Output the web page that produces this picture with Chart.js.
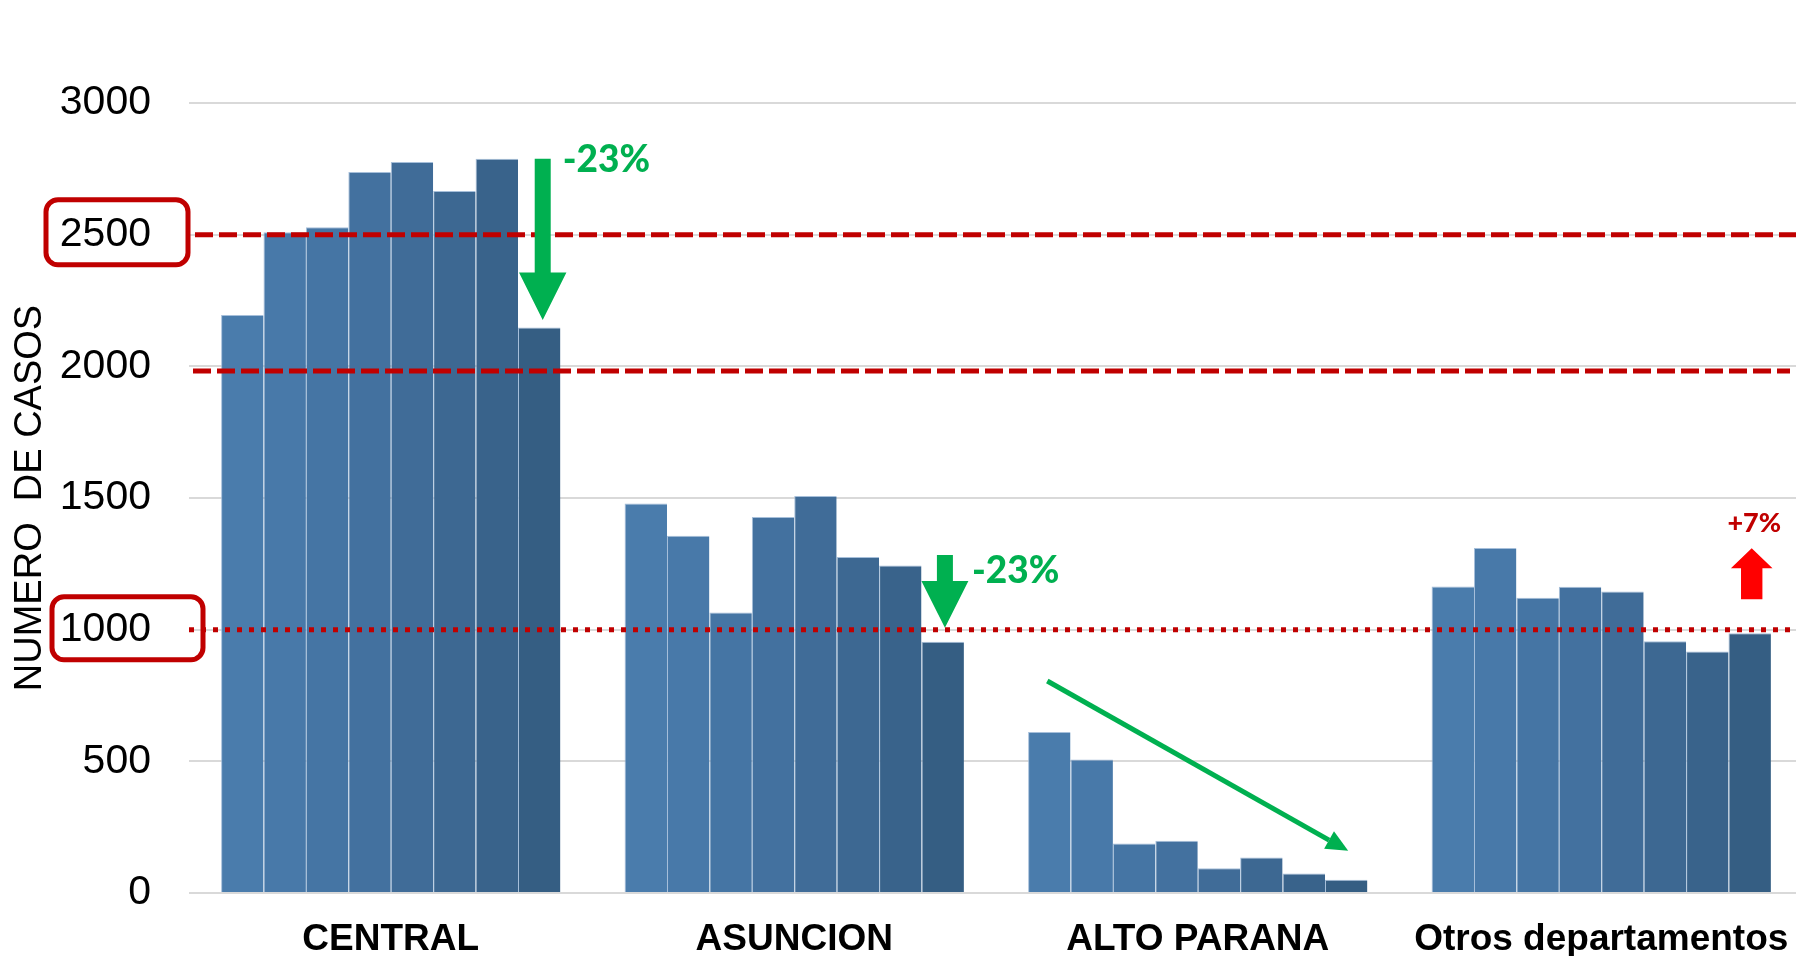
<!DOCTYPE html>
<html>
<head>
<meta charset="utf-8">
<script src="https://cdn.jsdelivr.net/npm/chart.js@4"></script>
<style>
  html, body { margin: 0; padding: 0; background: #fff; overflow: hidden; width: 1796px; height: 956px; }
  #wrap { position: absolute; left: 0; top: 0; width: 1804px; height: 956px; }
  canvas { display: block; }
</style>
</head>
<body>
<div id="wrap"><canvas id="c" width="1804" height="956"></canvas></div>
<script>
// ---- data ----
const categories = ['CENTRAL', 'ASUNCION', 'ALTO PARANA', 'Otros departamentos'];
const periodLabels = ['P1', 'P2', 'P3', 'P4', 'P5', 'P6', 'P7', 'P8'];
const period1 = [2195, 1479, 611, 1164];
const period2 = [2509, 1357, 507, 1310];
const period3 = [2528, 1065, 188, 1121];
const period4 = [2738, 1428, 198, 1163];
const period5 = [2776, 1508, 94, 1145];
const period6 = [2666, 1276, 135, 956];
const period7 = [2788, 1244, 74, 917];
const period8 = [2147, 954, 50, 986];
const yTicks = [0, 500, 1000, 1500, 2000, 2500, 3000];
const dashedLines = [2500, 1982];
const dottedLines = [1000];
const boxedTicks = [2500, 1000];
const changeLabels = ['-23%', '-23%', '+7%'];
const trendFrom = 805;   // ALTO PARANA trend arrow start value
const trendTo = 160;     // ALTO PARANA trend arrow end value

const periods = [period1, period2, period3, period4, period5, period6, period7, period8];
const barColors = ['#4a7cac', '#4879a9', '#4575a4', '#43719f', '#406c98', '#3d6892', '#39638b', '#355e83'];

function blockArrow(ctx, cx, base, headBase, tip, shaftHalf, headHalf, color) {
  ctx.beginPath();
  ctx.moveTo(cx - shaftHalf, base);
  ctx.lineTo(cx + shaftHalf, base);
  ctx.lineTo(cx + shaftHalf, headBase);
  ctx.lineTo(cx + headHalf, headBase);
  ctx.lineTo(cx, tip);
  ctx.lineTo(cx - headHalf, headBase);
  ctx.lineTo(cx - shaftHalf, headBase);
  ctx.closePath();
  ctx.fillStyle = color;
  ctx.fill();
}
function roundRect(ctx, x, y, w, h, r) {
  ctx.beginPath();
  ctx.moveTo(x + r, y);
  ctx.lineTo(x + w - r, y);
  ctx.arcTo(x + w, y, x + w, y + r, r);
  ctx.lineTo(x + w, y + h - r);
  ctx.arcTo(x + w, y + h, x + w - r, y + h, r);
  ctx.lineTo(x + r, y + h);
  ctx.arcTo(x, y + h, x, y + h - r, r);
  ctx.lineTo(x, y + r);
  ctx.arcTo(x, y, x + r, y, r);
  ctx.closePath();
}

const annotPlugin = {
  id: 'annot',
  afterDraw(chart) {
    const ctx = chart.ctx;
    const ys = chart.scales.y;
    const area = chart.chartArea;
    ctx.save();
    // reference lines
    ctx.strokeStyle = '#c00000';
    ctx.lineWidth = 5;
    ctx.setLineDash([18, 6]);
    dashedLines.forEach((v, i) => {
      const y = ys.getPixelForValue(v);
      ctx.beginPath();
      ctx.moveTo(area.left + (i === 0 ? 6 : 4), y);
      ctx.lineTo(i === 0 ? 1796 : 1790, y);
      ctx.stroke();
    });
    ctx.setLineDash([5, 7]);
    dottedLines.forEach(v => {
      const y = ys.getPixelForValue(v);
      ctx.beginPath();
      ctx.moveTo(area.left, y);
      ctx.lineTo(1796, y);
      ctx.stroke();
    });
    ctx.setLineDash([]);
    // boxed ticks
    ctx.lineWidth = 5;
    ctx.strokeStyle = '#c00000';
    {
      const y1 = ys.getPixelForValue(boxedTicks[0]);
      roundRect(ctx, 46, y1 - 35, 142, 65, 12);
      ctx.stroke();
      const y2 = ys.getPixelForValue(boxedTicks[1]);
      roundRect(ctx, 52, y2 - 33, 151, 63, 12);
      ctx.stroke();
    }
    const green = '#00b050';
    // CENTRAL arrow
    {
      const m7 = chart.getDatasetMeta(6).data[0];
      const m8 = chart.getDatasetMeta(7).data[0];
      const cx = m8.x + 3.5;
      const top = m7.y;
      const tip = m8.y - 7.5;
      blockArrow(ctx, cx, top, tip - 47.5, tip, 8, 23.7, green);
      ctx.fillStyle = green;
      ctx.font = '900 37px Lato';
      ctx.textBaseline = 'middle';
      ctx.textAlign = 'left';
      ctx.fillText(changeLabels[0], cx + 20, top + 1);
    }
    // ASUNCION arrow
    {
      const m8 = chart.getDatasetMeta(7).data[1];
      const cx = m8.x + 2.2;
      const tip = ys.getPixelForValue(dottedLines[0]) - 2;
      blockArrow(ctx, cx, tip - 72.7, tip - 46.7, tip, 8, 23.5, green);
      ctx.fillStyle = green;
      ctx.font = '900 37px Lato';
      ctx.textBaseline = 'middle';
      ctx.textAlign = 'left';
      ctx.fillText(changeLabels[1], cx + 27, tip - 57);
    }
    // ALTO PARANA trend arrow
    {
      const a = chart.getDatasetMeta(0).data[2];
      const b = chart.getDatasetMeta(7).data[2];
      const x1 = a.x - 2, y1 = ys.getPixelForValue(trendFrom);
      const x2 = b.x + 2, y2 = ys.getPixelForValue(trendTo);
      const ang = Math.atan2(y2 - y1, x2 - x1);
      const hl = 22, hw = 10;
      const bx = x2 - hl * Math.cos(ang), by = y2 - hl * Math.sin(ang);
      ctx.strokeStyle = green;
      ctx.lineWidth = 5;
      ctx.beginPath();
      ctx.moveTo(x1, y1);
      ctx.lineTo(bx, by);
      ctx.stroke();
      ctx.beginPath();
      ctx.moveTo(x2, y2);
      ctx.lineTo(bx + hw * Math.sin(ang), by - hw * Math.cos(ang));
      ctx.lineTo(bx - hw * Math.sin(ang), by + hw * Math.cos(ang));
      ctx.closePath();
      ctx.fillStyle = green;
      ctx.fill();
    }
    // Otros red arrow
    {
      const m8 = chart.getDatasetMeta(7).data[3];
      const cx = m8.x + 2;
      const bottom = m8.y - 34;
      blockArrow(ctx, cx, bottom, bottom - 31, bottom - 51, 10.7, 20.8, '#ff0000');
      ctx.fillStyle = '#c00000';
      ctx.font = '900 27px Lato';
      ctx.textBaseline = 'middle';
      ctx.textAlign = 'center';
      ctx.fillText(changeLabels[2], cx + 2.5, bottom - 76);
    }
    ctx.restore();
  }
};

new Chart(document.getElementById('c'), {
  type: 'bar',
  data: {
    labels: categories,
    datasets: periods.map((d, i) => ({
      label: periodLabels[i],
      data: d,
      backgroundColor: barColors[i],
      borderColor: 'rgba(150,180,212,0.85)',
      borderWidth: { left: 1, top: 1, right: 0, bottom: 0 },
      categoryPercentage: 0.841,
      barPercentage: 1.0
    }))
  },
  options: {
    responsive: false,
    animation: false,
    devicePixelRatio: 1,
    layout: { padding: { top: 103, right: 1, left: 0, bottom: 0 } },
    plugins: { legend: { display: false }, tooltip: { enabled: false } },
    scales: {
      x: {
        grid: { color: 'rgba(0,0,0,0)', drawOnChartArea: false, drawTicks: true, tickLength: 25 },
        border: { display: false },
        ticks: {
          color: '#000',
          font: { family: 'Liberation Sans', size: 37, weight: 'bold' },
          padding: 0,
          maxRotation: 0,
          autoSkip: false
        },
        afterFit(s) { s.height = 63; }
      },
      y: {
        min: 0,
        max: 3000,
        afterBuildTicks(s) { s.ticks = yTicks.map(v => ({ value: v })); },
        ticks: {
          color: '#000',
          font: { family: 'Liberation Sans', size: 41 },
          padding: 38,
          callback: (v) => String(v)
        },
        grid: { color: '#d9d9d9', lineWidth: 2, drawTicks: false },
        border: { display: false },
        title: {
          display: true,
          text: 'NUMERO  DE CASOS',
          color: '#000',
          font: { family: 'Liberation Sans', size: 38 },
          padding: { top: 8, bottom: 0 }
        },
        afterFit(s) { s.width = 189; }
      }
    }
  },
  plugins: [annotPlugin]
});
</script>
</body>
</html>
